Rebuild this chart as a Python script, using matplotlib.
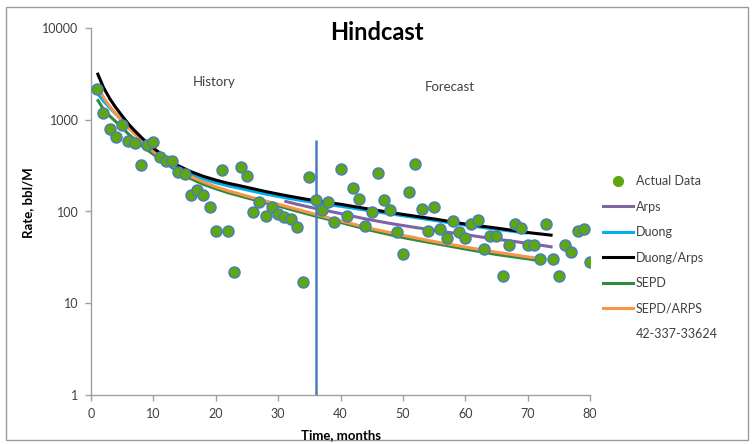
import numpy as np
import matplotlib
matplotlib.use("Agg")
import matplotlib.pyplot as plt
from matplotlib.lines import Line2D
from matplotlib.patches import Rectangle

plt.rcParams['font.family'] = ['Lato', 'DejaVu Sans']

# Monthly production history
months = np.arange(1, 81)
actual = [2160, 1175, 787, 645, 877, 591, 554, 318, 531, 577,
          390, 358, 358, 267, 254, 150, 171, 150, 113, 61,
          283, 61, 22, 303, 244, 99, 126, 90, 111, 93,
          88, 83, 67, 17, 240, 133, 104, 126, 77, 290,
          89, 182, 137, 70, 98, 261, 133, 104, 60, 34,
          162, 332, 106, 61, 113, 64, 52, 79, 60, 52,
          73, 80, 39, 54, 54, 20, 43, 73, 66, 43,
          43, 30, 73, 30, 20, 43, 36, 61, 64, 28]

# Decline-curve models (month, rate)
arps_t = [31, 33, 36, 40, 44, 48, 52, 56, 60, 64, 68, 72, 74]
arps_q = [130, 120, 108, 95, 83, 74, 67, 61, 56, 51, 47, 43, 41]

duong_t = [1, 2, 3, 4, 5, 6, 7, 8, 9, 10, 12, 14, 16, 18, 20, 22, 24, 26, 28,
           30, 32, 34, 36, 40, 45, 50, 55, 60, 65, 70]
duong_q = [1950, 1600, 1350, 1150, 980, 840, 720, 610, 525, 458, 364, 295,
           254, 226, 206, 190, 178, 166, 155, 146, 138, 131, 124, 114, 101,
           90, 80, 71, 64, 58]

duong_arps_t = [1, 2, 3, 4, 5, 6, 7, 8, 9, 10, 12, 14, 16, 18, 20, 22, 24, 26,
                28, 30, 32, 34, 36, 40, 45, 50, 55, 60, 65, 70, 74]
duong_arps_q = [3250, 2250, 1700, 1350, 1100, 900, 760, 650, 560, 490, 390,
                315, 272, 242, 220, 203, 190, 177, 165, 155, 146, 138, 131,
                120, 105, 93, 83, 73, 66, 59, 55]

sepd_t = [1, 2, 3, 4, 5, 6, 7, 8, 9, 10, 12, 14, 16, 18, 20, 22, 24, 26, 28,
          30, 33, 36, 40, 45, 50, 55, 60, 65, 70, 72]
sepd_q = [1670, 1300, 1100, 950, 820, 700, 610, 530, 470, 420, 335, 270, 228,
          198, 177, 160, 147, 135, 124, 115, 101, 89, 76, 62, 52, 45, 39, 34,
          30.5, 29]

sepd_arps_t = [1, 2, 3, 4, 5, 6, 7, 8, 9, 10, 12, 14, 16, 18, 20, 22, 24, 26,
               28, 30, 33, 36, 40, 45, 50, 55, 60, 65, 70, 73]
sepd_arps_q = [2400, 1750, 1400, 1150, 960, 820, 700, 600, 520, 450, 350, 285,
               240, 210, 186, 168, 154, 141, 130, 120, 106, 93, 79, 65, 55, 47,
               41, 36, 32, 30]

split_month = 36
split_top = 600
well_id = "42-337-33624"

fig = plt.figure(figsize=(7.54, 4.44), dpi=100)
ax = fig.add_axes([91 / 754, 1 - 395 / 444, (590 - 91) / 754, (395 - 28) / 444])

lw = 2.2
ax.plot(arps_t, arps_q, color='#8064A2', lw=lw, solid_capstyle='butt', zorder=3)
ax.plot(duong_t, duong_q, color='#00B0F0', lw=lw, solid_capstyle='butt', zorder=3)
ax.plot(sepd_t, sepd_q, color='#2E8B3E', lw=lw, solid_capstyle='butt', zorder=3)
ax.plot(sepd_arps_t, sepd_arps_q, color='#F79646', lw=lw, solid_capstyle='butt', zorder=3)
ax.plot(duong_arps_t, duong_arps_q, color='black', lw=lw, solid_capstyle='butt', zorder=3)
ax.vlines(split_month, 1, split_top, color='#4A7EBB', lw=1.8, zorder=4)
ax.scatter(months, actual, s=62, color='#5FA70E', edgecolors='#4A7EBB',
           linewidths=1.1, zorder=5)

ax.set_yscale('log')
ax.set_xlim(0, 80)
ax.set_ylim(1, 10000)
ax.set_xticks(np.arange(0, 81, 10))
ax.set_yticks([1, 10, 100, 1000, 10000])
ax.set_yticklabels(['1', '10', '100', '1000', '10000'])
ax.minorticks_off()
for side in ('top', 'right'):
    ax.spines[side].set_visible(False)
for side in ('left', 'bottom'):
    ax.spines[side].set_color('#A0A0A0')
    ax.spines[side].set_linewidth(1.0)
ax.tick_params(axis='both', which='major', direction='out', length=4,
               width=1.0, color='#A0A0A0', labelsize=9, labelcolor='#404040',
               pad=5)

ax.text(19.7, 2600, 'History', fontsize=9.5, color='#404040', ha='center', va='center')
ax.text(57.5, 2280, 'Forecast', fontsize=9.5, color='#404040', ha='center', va='center')

fig.text(0.5, 1 - 33 / 444, 'Hindcast', fontsize=17, fontweight='bold',
         ha='center', va='center', color='black')
fig.text(28 / 754, 1 - 203 / 444, 'Rate, bbl/M', fontsize=9.5, fontweight='bold',
         rotation=90, ha='center', va='center', color='black')
fig.text(341 / 754, 1 - 435 / 444, 'Time, months', fontsize=9.5,
         fontweight='bold', ha='center', va='center', color='black')

handles = [
    Line2D([], [], ls='none', marker='o', markersize=7, markerfacecolor='#5FA70E',
           markeredgecolor='#5FA70E'),
    Line2D([], [], color='#8064A2', lw=lw),
    Line2D([], [], color='#00B0F0', lw=lw),
    Line2D([], [], color='black', lw=lw),
    Line2D([], [], color='#2E8B3E', lw=lw),
    Line2D([], [], color='#F79646', lw=lw),
    Line2D([], [], ls='none'),
]
labels = ['Actual Data', 'Arps', 'Duong', 'Duong/Arps', 'SEPD', 'SEPD/ARPS', well_id]
fig.legend(handles, labels, loc='upper left',
           bbox_to_anchor=(603 / 754, 1 - 175 / 444), frameon=False,
           fontsize=9, handlelength=2.4, handletextpad=0.25, labelspacing=1.08,
           borderpad=0, borderaxespad=0, labelcolor='#404040')

fig.patches.append(Rectangle((6 / 754, 4 / 444), 742 / 754, 433 / 444,
                             transform=fig.transFigure, fill=False,
                             edgecolor='#9A9A9A', lw=1.0))

fig.savefig('out.png', dpi=100)
